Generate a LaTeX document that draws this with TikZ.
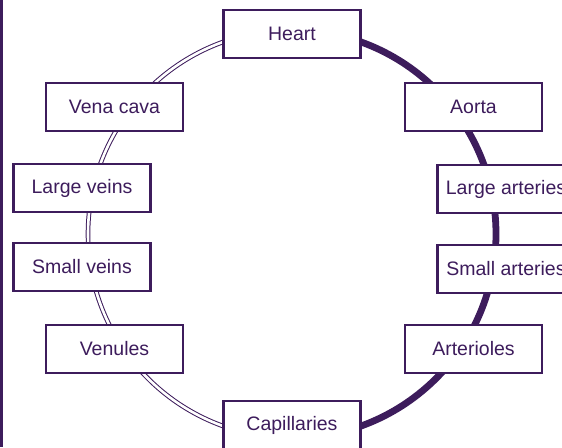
\documentclass[tikz,border=0pt]{standalone}
\usepackage{fontspec}
\setmainfont{Liberation Sans}
\definecolor{plum}{HTML}{3D1C5C}
\begin{document}
\begin{tikzpicture}[x=1pt,y=-1pt,
  vbox/.style={draw=plum,line width=2.4pt,fill=white,minimum width=137pt,minimum height=47.5pt,inner sep=0pt,text=plum,font=\fontsize{19.5}{22}\selectfont},
  veinline/.style={draw=plum,line width=4.6pt},
  veingap/.style={draw=white,line width=2.6pt},
  arteryline/.style={draw=plum,line width=6.8pt}]
\useasboundingbox (0,0) rectangle (562,447);
\coordinate (c) at (292,234);
% circulation ring
\draw[arteryline] (c) ++(90:204) arc[start angle=90,end angle=-90,radius=204];
\draw[veinline] (c) ++(90:204) arc[start angle=90,end angle=270,radius=204];
\draw[veingap] (c) ++(90:204) arc[start angle=90,end angle=270,radius=204];
% frame edge
\draw[plum,line width=2.6pt] (1.3,0) -- (1.3,447);
% boxes
\node[vbox] (heart) at (292,34) {Heart};
\node[vbox] (vena) at (114.5,107) {Vena cava};
\node[vbox] (aorta) at (473.5,107) {Aorta};
\node[vbox] (lveins) at (82,188) {Large veins};
\node[vbox] (sveins) at (82,267) {Small veins};
\node[vbox] (larteries) at (506,189) {Large arteries};
\node[vbox] (sarteries) at (506,269) {Small arteries};
\node[vbox] (venules) at (114.5,349) {Venules};
\node[vbox] (arterioles) at (473.5,349) {Arterioles};
\node[vbox] (cap) at (292,425) {Capillaries};
\end{tikzpicture}
\end{document}
